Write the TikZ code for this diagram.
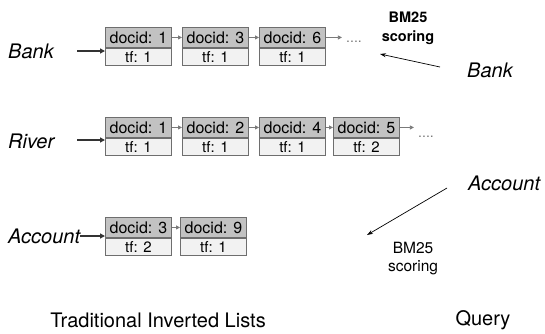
\documentclass[tikz,border=0pt]{standalone}
\usepackage{fontspec}
\setmainfont{TeX Gyre Heros}
\usepackage{tikz}
\usetikzlibrary{arrows.meta}
\definecolor{cellgray}{HTML}{C2C2C2}
\definecolor{tfgray}{HTML}{F2F2F2}
\definecolor{rulegray}{HTML}{6E6E6E}
\definecolor{linkgray}{HTML}{7A7A7A}

\begin{document}
\begin{tikzpicture}[x=1pt, y=-1pt,
  docid/.style={draw=rulegray, line width=0.9pt, fill=cellgray, minimum width=66pt, minimum height=20pt, inner sep=0pt, font=\fontsize{16}{18}\selectfont},
  tf/.style={draw=rulegray, line width=0.9pt, fill=tfgray, minimum width=66pt, minimum height=17pt, inner sep=0pt, font=\fontsize{15}{17}\selectfont},
  term/.style={font=\fontsize{20}{22}\selectfont\itshape, inner sep=0pt},
  link/.style={draw=linkgray, line width=0.8pt, -{Triangle[length=4pt,width=4pt]}},
  feed/.style={draw=black!80, line width=2.2pt, -{Triangle[length=5pt,width=5pt]}},
  score/.style={line width=0.7pt, -{Stealth[length=6pt,width=4pt]}},
  more/.style={text=linkgray, font=\fontsize{14}{16}\selectfont, inner sep=0pt}]
\useasboundingbox (0,0) rectangle (545,333);

% Bank
\node (bank) at (8,51) [term, anchor=west] {Bank};
\coordinate (bankin) at (77,51);
\node (b1) at (105,27) [docid, anchor=north west] {docid: 1};
	\node (b1tf) at (b1.south) [tf, anchor=north] {tf: 1};
\node (b2) at (182,27) [docid, anchor=north west] {docid: 3};
	\node (b2tf) at (b2.south) [tf, anchor=north] {tf: 1};
\node (b3) at (259,27) [docid, anchor=north west] {docid: 6};
	\node (b3tf) at (b3.south) [tf, anchor=north] {tf: 1};
\node (bmore) at (354,42) [more] {....};
\draw[feed] (bankin) -- (bankin -| b1.west);
\draw[link] (b1) -- (b2);
\draw[link] (b2) -- (b3);
\draw[link] (b3.east) -- ++(16,0);

% River
\node (river) at (8,141) [term, anchor=west] {River};
\coordinate (riverin) at (77,140);
\node (r1) at (105,117) [docid, anchor=north west] {docid: 1};
	\node (r1tf) at (r1.south) [tf, anchor=north] {tf: 1};
\node (r2) at (182,117) [docid, anchor=north west] {docid: 2};
	\node (r2tf) at (r2.south) [tf, anchor=north] {tf: 1};
\node (r3) at (259,117) [docid, anchor=north west] {docid: 4};
	\node (r3tf) at (r3.south) [tf, anchor=north] {tf: 1};
\node (r4) at (333,117) [docid, anchor=north west] {docid: 5};
	\node (r4tf) at (r4.south) [tf, anchor=north] {tf: 2};
\node (rmore) at (426,137) [more] {....};
\draw[feed] (riverin) -- (riverin -| r1.west);
\draw[link] (r1) -- (r2);
\draw[link] (r2) -- (r3);
\draw[link] (r3) -- (r4);
\draw[link] (r4.east) -- ++(14,0);

% Account
\node (account) at (8,236) [term, anchor=west] {Account};
\node (a1) at (105,217) [docid, anchor=north west] {docid: 3};
	\node (a1tf) at (a1.south) [tf, anchor=north] {tf: 2};
\node (a2) at (180,217) [docid, anchor=north west] {docid: 9};
	\node (a2tf) at (a2.south) [tf, anchor=north] {tf: 1};
\draw[feed] (account.east) -- (account.east -| a1.west);
\draw[link] (a1) -- (a2);

% query side
\node (qbank) at (490,70) [term] {Bank};
\node (qaccount) at (468,183) [term, anchor=west] {Account};
\node (bm1) at (408,28.5) [align=center, font=\fontsize{14.5}{19}\selectfont\bfseries] {BM25\\scoring};
\node (bm2) at (413,259) [align=center, font=\fontsize{15.5}{18}\selectfont] {BM25\\scoring};
\coordinate (qbankout) at (440,67);
\coordinate (bm1in) at (380,54);
\coordinate (qaccountout) at (447,188);
\coordinate (bm2in) at (367,235);
\draw[score] (qbankout) -- (bm1in);
\draw[score] (qaccountout) -- (bm2in);

% captions
\node (lists) at (158,320) [font=\fontsize{20}{22}\selectfont] {Traditional Inverted Lists};
\node (query) at (483,320) [font=\fontsize{20}{22}\selectfont] {Query};
\end{tikzpicture}
\end{document}
